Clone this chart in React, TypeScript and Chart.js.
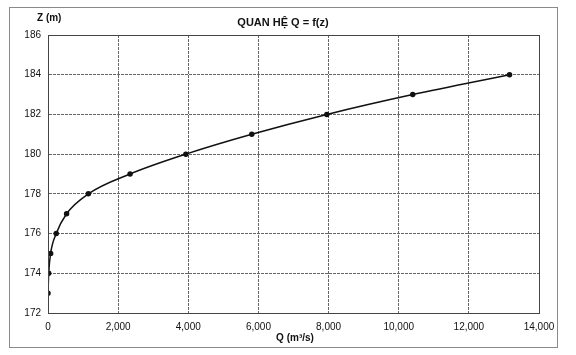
import React, { useEffect, useRef } from "react";
import { Chart, registerables } from "chart.js";

Chart.register(...registerables);

const dischargeQ = [0, 20, 75, 235, 530, 1150, 2340, 3930, 5810, 7950, 10400, 13160];
const levelZ = [173, 174, 175, 176, 177, 178, 179, 180, 181, 182, 183, 184];
const xTicks = [0, 2000, 4000, 6000, 8000, 10000, 12000, 14000];
const yTicks = [172, 174, 176, 178, 180, 182, 184, 186];
const titleText = "QUAN HỆ Q = f(z)";
const yAxisLabel = "Z (m)";
const xAxisLabel = "Q (m³/s)";

const FONT = '"Liberation Sans", Arial, sans-serif';

const decorPlugin = {
  id: "decor",
  afterDraw(chart: any) {
    const ctx = chart.ctx;
    const a = chart.chartArea;
    ctx.save();
    // outer frame
    ctx.strokeStyle = "#8a8a8a";
    ctx.lineWidth = 1;
    ctx.strokeRect(9.5, 7.5, 548, 340);
    // plot border
    ctx.strokeStyle = "#444";
    ctx.strokeRect(Math.round(a.left) + 0.5, Math.round(a.top) + 0.5, Math.round(a.right - a.left), Math.round(a.bottom - a.top));
    ctx.fillStyle = "#111";
    ctx.textBaseline = "middle";
    ctx.textAlign = "center";
    ctx.font = `bold 11px ${FONT}`;
    ctx.fillText(titleText, 283, 23);
    ctx.textAlign = "left";
    ctx.font = `bold 10px ${FONT}`;
    ctx.fillText(yAxisLabel, 37, 18);
    ctx.textAlign = "center";
    ctx.fillText(xAxisLabel, 295, 338);
    ctx.restore();
  },
};

export default function App() {
  const ref = useRef<HTMLCanvasElement | null>(null);
  useEffect(() => {
    if (!ref.current) return;
    const data = dischargeQ.map((q, i) => ({ x: q, y: levelZ[i] }));
    const chart = new Chart(ref.current, {
      type: "scatter",
      data: {
        datasets: [
          {
            data,
            showLine: true,
            borderColor: "#111",
            borderWidth: 1.5,
            backgroundColor: "#111",
            pointBackgroundColor: "#111",
            pointBorderColor: "#111",
            pointRadius: 2,
            pointHoverRadius: 2,
            cubicInterpolationMode: "monotone",
          } as any,
        ],
      },
      options: {
        animation: false,
        responsive: false,
        maintainAspectRatio: false,
        layout: { padding: { top: 35, right: 37, left: 0, bottom: 0 } },
        plugins: {
          legend: { display: false },
          title: { display: false },
          tooltip: { enabled: false },
        },
        scales: {
          x: {
            type: "linear",
            min: 0,
            max: 14000,
            afterFit: (s: any) => {
              s.height = 42;
            },
            afterBuildTicks: (s: any) => {
              s.ticks = xTicks.map((v) => ({ value: v }));
            },
            ticks: {
              padding: 8,
              color: "#111",
              font: { family: FONT, size: 10 },
              maxRotation: 0,
              autoSkip: false,
              callback: (v: any) => Number(v).toLocaleString("en-US"),
            },
            grid: { color: "#666", drawTicks: false, lineWidth: 1 },
            border: { display: true, color: "#444", dash: [3, 1] },
          },
          y: {
            type: "linear",
            min: 172,
            max: 186,
            afterFit: (s: any) => {
              s.width = 48;
            },
            afterBuildTicks: (s: any) => {
              s.ticks = yTicks.map((v) => ({ value: v }));
            },
            ticks: {
              padding: 7,
              color: "#111",
              font: { family: FONT, size: 10 },
              autoSkip: false,
            },
            grid: { color: "#666", drawTicks: false, lineWidth: 1 },
            border: { display: true, color: "#444", dash: [3, 1] },
          },
        },
      } as any,
      plugins: [decorPlugin],
    });
    return () => chart.destroy();
  }, []);
  return (
    <div style={{ position: "absolute", left: 0, top: 0, width: 576, height: 355, background: "#fff" }}>
      <canvas ref={ref} width={576} height={355} style={{ width: 576, height: 355, display: "block" }} />
    </div>
  );
}
